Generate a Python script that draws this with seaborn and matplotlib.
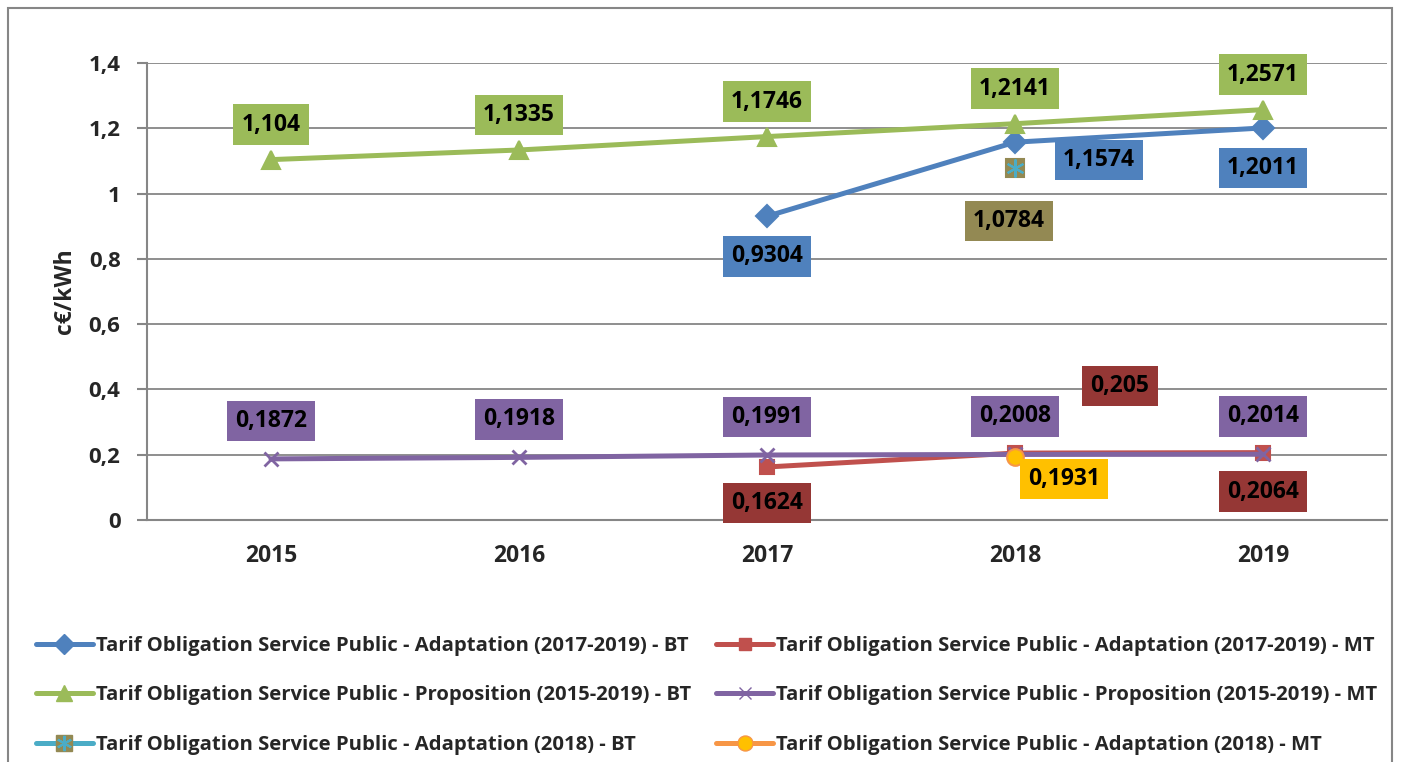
import numpy as np
import pandas as pd
import matplotlib
matplotlib.use("Agg")
import matplotlib.pyplot as plt
import seaborn as sns
from matplotlib.lines import Line2D
from matplotlib.patches import Rectangle
from matplotlib.legend_handler import HandlerTuple

# données (c€/kWh)
annees = ["2015", "2016", "2017", "2018", "2019"]
bt_adapt = [np.nan, np.nan, 0.9304, 1.1574, 1.2011]
mt_adapt = [np.nan, np.nan, 0.1624, 0.205, 0.2064]
bt_prop = [1.104, 1.1335, 1.1746, 1.2141, 1.2571]
mt_prop = [0.1872, 0.1918, 0.1991, 0.2008, 0.2014]
bt_2018 = [np.nan, np.nan, np.nan, 1.0784, np.nan]
mt_2018 = [np.nan, np.nan, np.nan, 0.1931, np.nan]

noms = ["Tarif Obligation Service Public - Adaptation (2017-2019) - BT",
        "Tarif Obligation Service Public - Adaptation (2017-2019) - MT",
        "Tarif Obligation Service Public - Proposition (2015-2019) - BT",
        "Tarif Obligation Service Public - Proposition (2015-2019) - MT",
        "Tarif Obligation Service Public - Adaptation (2018) - BT",
        "Tarif Obligation Service Public - Adaptation (2018) - MT"]

sns.set_style("white")
plt.rcParams['font.family'] = ['Open Sans', 'DejaVu Sans']
plt.rcParams['font.weight'] = 'bold'

W, H = 1402, 762
fig = plt.figure(figsize=(W / 100, H / 100), dpi=100)
ax = fig.add_axes([147 / W, 1 - 520 / H, 1240 / W, 457 / H])

xs = np.arange(len(annees))
gris = "#868686"

# style: couleur, marqueur, taille, couleur de face, couleur de bord, fond étiquette
styles = [
    ("#4F81BD", "D", 11, "#4F81BD", "#4F81BD", "#4F81BD"),
    ("#C0504D", "s", 10, "#C0504D", "#C0504D", "#953735"),
    ("#9BBB59", "^", 13, "#9BBB59", "#9BBB59", "#9BBB59"),
    ("#8064A2", "x", 10, "#8064A2", "#8064A2", "#8064A2"),
    ("#4BACC6", "s", 13, "#938953", "#938953", "#938953"),
    ("#F79646", "o", 12, "#FFC000", "#F79646", "#FFC000"),
]
series = [bt_adapt, mt_adapt, bt_prop, mt_prop, bt_2018, mt_2018]

# décalage des étiquettes en pixels (dx, dy vers le haut)
decalages = [
    [None, None, (0, -40), (84, -18), (0, -40)],
    [None, None, (0, -36), (105, 67), (0, -39)],
    [(0, 35)] * 5,
    [(0, 38)] * 5,
    [None, None, None, (-6, -53), None],
    [None, None, None, (49, -22), None],
]

for i, (vals, st) in enumerate(zip(series, styles)):
    col, mk, ms, fc, ec, boxc = st
    df = pd.DataFrame({"x": xs, "y": vals}).dropna()
    sns.lineplot(data=df, x="x", y="y", ax=ax, color=col, linewidth=3.6,
                 marker=mk, markersize=ms, markerfacecolor=fc,
                 markeredgecolor=ec, markeredgewidth=1.5 if mk != "x" else 2,
                 zorder=3 + i)
    if i == 4:
        ax.plot(df["x"], df["y"], linestyle="none", marker=(6, 2, 0),
                markersize=13, markeredgecolor=col, markeredgewidth=1.5, zorder=9)
    for j, v in enumerate(vals):
        if np.isnan(v):
            continue
        dx, dy = decalages[i][j]
        ax.annotate(f"{v:g}".replace(".", ","), (xs[j], v), xytext=(dx, dy),
                    textcoords="offset pixels", ha="center", va="center",
                    fontsize=16.5, fontweight="bold", color="black", zorder=20,
                    bbox=dict(boxstyle="square,pad=0.36", fc=boxc, ec="none"))

ax.set_xlim(-0.5, len(annees) - 0.5)
ax.set_ylim(0, 1.4)
yt = np.arange(0, 1.41, 0.2)
ax.set_yticks(yt)
ax.set_yticklabels([f"{t:g}".replace(".", ",") for t in yt], fontsize=16, fontweight="bold")
ax.set_xticks(xs)
ax.set_xticklabels(annees, fontsize=16.5, fontweight="bold")
ax.set_xticks(np.arange(-0.5, len(annees)), minor=True)
ax.tick_params(axis="x", which="major", length=0, pad=17)
ax.tick_params(axis="x", which="minor", length=7, width=1.5, color=gris, direction="out")
ax.tick_params(axis="y", length=7, width=1.5, color=gris, direction="out", pad=12, left=True)
ax.yaxis.grid(True, color=gris, linewidth=1.3)
ax.set_axisbelow(True)
for s in ["top", "right"]:
    ax.spines[s].set_visible(False)
for s in ["left", "bottom"]:
    ax.spines[s].set_color(gris)
    ax.spines[s].set_linewidth(1.5)
ax.set_xlabel("")
ax.set_ylabel("c€/kWh", fontsize=16.5, fontweight="bold", labelpad=8)

# légende
def poignee(st, extra=False):
    col, mk, ms, fc, ec, _ = st
    h = Line2D([], [], color=col, linewidth=3.6, marker=mk, markersize=ms * 0.9,
               markerfacecolor=fc, markeredgecolor=ec)
    if extra:
        h2 = Line2D([], [], linestyle="none", marker=(6, 2, 0), markersize=11,
                    markeredgecolor=col, markeredgewidth=1.5)
        return (h, h2)
    return h

ordre = [0, 2, 4, 1, 3, 5]
handles = [poignee(styles[k], extra=(k == 4)) for k in ordre]
labels = [noms[k] for k in ordre]
fig.legend(handles, labels, ncol=2, loc="upper left",
           bbox_to_anchor=(36 / W, 1 - 636 / H), frameon=False,
           prop={"weight": "bold", "size": 14.6},
           handlelength=2.8, handletextpad=0.15, labelspacing=1.45,
           columnspacing=1.25, borderpad=0, borderaxespad=0,
           handler_map={tuple: HandlerTuple(ndivide=1)})

# cadre extérieur
fig.patches.append(Rectangle((8 / W, -0.02), 1384 / W, 1 - 8 / H + 0.02,
                             transform=fig.transFigure, fill=False,
                             edgecolor=gris, linewidth=1.5))

fig.savefig("out.png", dpi=100)
